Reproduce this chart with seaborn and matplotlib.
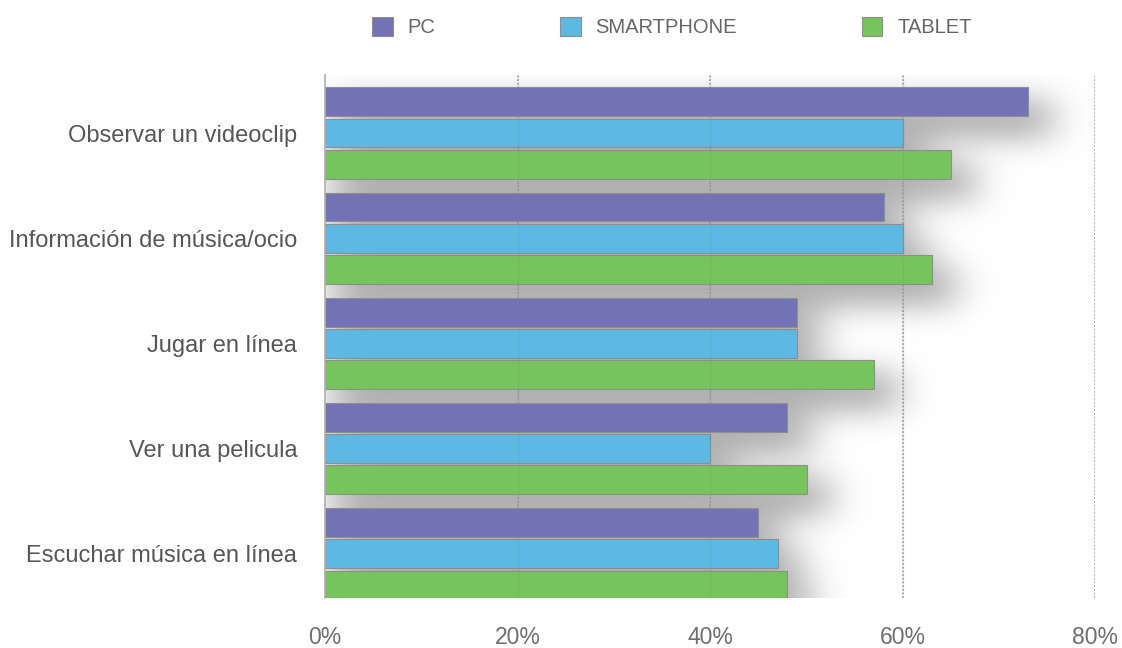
import matplotlib
matplotlib.use("Agg")
import matplotlib.pyplot as plt
import numpy as np
import seaborn as sns
import pandas as pd

categories = [
    "Observar un videoclip",
    "Información de música/ocio",
    "Jugar en línea",
    "Ver una pelicula",
    "Escuchar música en línea",
]
devices = ["PC", "SMARTPHONE", "TABLET"]
pc = [73, 58, 49, 48, 45]
smartphone = [60, 60, 49, 40, 47]
tablet = [65, 63, 57, 50, 48]
x_ticks = [0, 20, 40, 60, 80]
x_tick_labels = ["0%", "20%", "40%", "60%", "80%"]
palette = ["#7472b6", "#5db8e2", "#75c45c"]

df = pd.DataFrame({
    "actividad": categories * 3,
    "dispositivo": [d for d in devices for _ in categories],
    "valor": pc + smartphone + tablet,
})

sns.set_theme(style="white")
plt.rcParams["font.family"] = ["Liberation Sans", "DejaVu Sans"]

fig = plt.figure(figsize=(11.22, 6.48), dpi=100, facecolor="white")
ax = fig.add_axes([0.2897, 0.0772, 0.6866, 0.8068])
ax.set_facecolor("none")

sns.barplot(
    data=df, y="actividad", x="valor", hue="dispositivo",
    order=categories, hue_order=devices, palette=palette,
    orient="h", width=0.89, gap=0.08, saturation=1,
    edgecolor="#8e8e8e", linewidth=0.8, ax=ax, zorder=3,
)

XMIN, XMAX = 0, 80
YTOP, YBOT = -0.55, 4.42

# blurred drop shadow built from the drawn bar rectangles
gx0, gx1, gy0, gy1 = -2, 90, YTOP - 0.3, YBOT + 0.4
nx, ny = 920, 580
xs = np.linspace(gx0, gx1, nx)
ys = np.linspace(gy0, gy1, ny)
mask = np.zeros((ny, nx))
off_x, off_y = 2.4, 0.16
for bar in ax.patches:
    x0, y0 = bar.get_x(), bar.get_y()
    w, h = bar.get_width(), bar.get_height()
    if w <= 0:
        continue
    cols = (xs >= x0 + 0.8) & (xs <= x0 + w + off_x)
    rows = (ys >= y0 + off_y - 0.06) & (ys <= y0 + h + off_y + 0.06)
    mask[np.ix_(rows, cols)] = 1.0


def blur(arr, sigma, axis):
    r = int(3 * sigma)
    k = np.exp(-0.5 * (np.arange(-r, r + 1) / sigma) ** 2)
    k /= k.sum()
    return np.apply_along_axis(lambda v: np.convolve(v, k, mode="same"), axis, arr)


shadow = blur(blur(mask, 20, 1), 14, 0)
rgba = np.zeros((ny, nx, 4))
rgba[..., :3] = 0.38
rgba[..., 3] = np.clip(shadow, 0, 1) * 0.5
ax.imshow(rgba, extent=(gx0, gx1, gy1, gy0), aspect="auto",
          interpolation="bilinear", zorder=1)
ax.set_xlim(XMIN, XMAX)
ax.set_ylim(YBOT, YTOP)

ax.set_xticks(x_ticks)
ax.set_xticklabels(x_tick_labels, fontsize=16.5, color="#6e6e6e")
ax.tick_params(axis="x", length=0, pad=20)
ax.tick_params(axis="y", length=0, pad=20)
for lbl in ax.get_yticklabels():
    lbl.set_fontsize(17)
    lbl.set_color("#565656")

for xv in x_ticks[1:]:
    ax.axvline(xv, color="#9a9a9a", linestyle=(0, (1.2, 1.2)), linewidth=1.1, zorder=2)
    ax.axvline(xv, color="#808080", linewidth=1.0, alpha=0.15, zorder=4)

for side in ["top", "right", "bottom"]:
    ax.spines[side].set_visible(False)
ax.spines["left"].set_color("#b0b0b0")
ax.spines["left"].set_linewidth(1.2)
ax.spines["left"].set_zorder(5)
ax.set_xlabel("")
ax.set_ylabel("")

handles, labels = ax.get_legend_handles_labels()
ax.legend_.remove()
fig.legend(
    handles, labels, loc="center", bbox_to_anchor=(0.599, 0.958), ncol=3,
    frameon=False, handlelength=1.0, handleheight=1.1, handletextpad=0.75,
    columnspacing=6.2,
    prop={"size": 14.5}, labelcolor="#666666",
)

fig.savefig("out.png", dpi=100, facecolor="white")
